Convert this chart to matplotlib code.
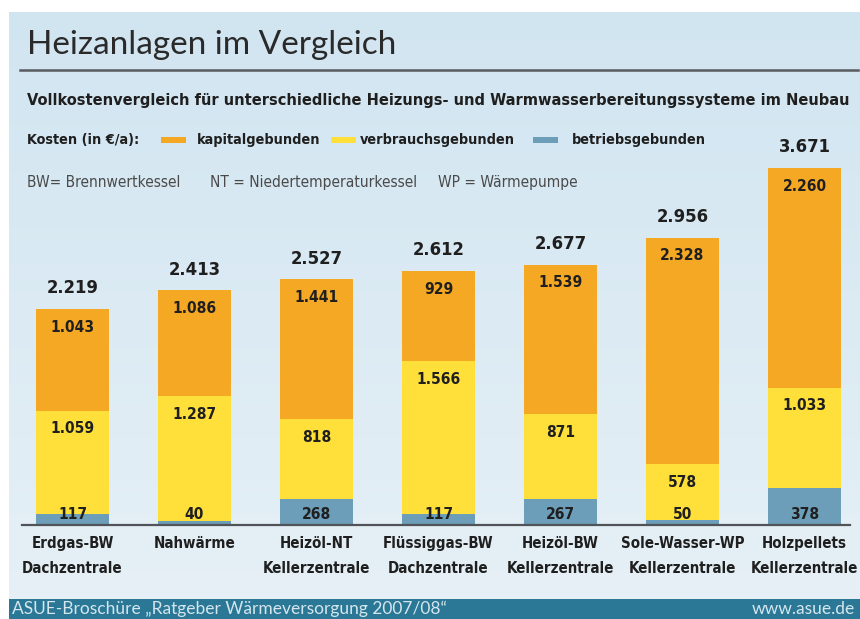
import os
import numpy as np
import matplotlib
matplotlib.use('Agg')
import matplotlib.pyplot as plt
from matplotlib import font_manager as fm
from matplotlib.patches import Rectangle
from matplotlib.lines import Line2D
from matplotlib.colors import LinearSegmentedColormap

# Data
systems = ['Erdgas-BW\nDachzentrale', 'Nahwärme', 'Heizöl-NT\nKellerzentrale',
           'Flüssiggas-BW\nDachzentrale', 'Heizöl-BW\nKellerzentrale',
           'Sole-Wasser-WP\nKellerzentrale', 'Holzpellets\nKellerzentrale']
betrieb = [117, 40, 268, 117, 267, 50, 378]
verbrauch = [1059, 1287, 818, 1566, 871, 578, 1033]
kapital = [1043, 1086, 1441, 929, 1539, 2328, 2260]
totals = [2219, 2413, 2527, 2612, 2677, 2956, 3671]

C_KAP = '#F5A823'
C_VER = '#FFE03A'
C_BET = '#6C9DB9'
TXT = '#1f1f1f'


def pick(files, fallback):
    paths = {os.path.basename(f.fname): f.fname for f in fm.fontManager.ttflist}
    for fn in files:
        if fn in paths:
            return fm.FontProperties(fname=paths[fn]), fn
    return fallback, 'fallback'


BOLD, bold_name = pick(['LiberationSansNarrow-Bold.ttf', 'DejaVuSansCondensed-Bold.ttf'],
                       fm.FontProperties(family='DejaVu Sans', weight='bold'))
REG, reg_name = pick(['LiberationSansNarrow-Regular.ttf', 'DejaVuSansCondensed.ttf'],
                     fm.FontProperties(family='DejaVu Sans'))
if 'Narrow' in bold_name:
    k = 1.0
elif 'Condensed' in bold_name:
    k = 0.8
else:
    k = 0.72


def fmt(v):
    return f'{v:,}'.replace(',', '.')


W, H = 860, 619
fig = plt.figure(figsize=(W / 100, H / 100), dpi=100)
fig.patch.set_facecolor('white')

# light blue panel with soft gradient
bg = fig.add_axes([9 / W, 20 / H, (W - 9) / W, (H - 12 - 20) / H], zorder=0)
grad = np.linspace(0, 1, 256)[:, None] * np.ones((1, 16))
cmap = LinearSegmentedColormap.from_list('bgc', ['#D1E5F1', '#E6F0F6'])
bg.imshow(grad, aspect='auto', cmap=cmap, extent=[0, 1, 0, 1], origin='upper')
bg.set_axis_off()

# footer band
fig.patches.append(Rectangle((9 / W, 0), 1, 20 / H, transform=fig.transFigure,
                             facecolor='#2B7896', edgecolor='none', zorder=1))


def px(x, y):
    return x / W, 1 - y / H


renderer = fig.canvas.get_renderer()


def fit(t, width):
    w = t.get_window_extent(renderer=renderer).width
    t.set_fontsize(t.get_fontsize() * width / w)
    return t.get_fontsize()


# title block
t = fig.text(*px(27, 45), 'Heizanlagen im Vergleich', fontsize=22, family='Lato',
             color='#2a2a2a', va='center', ha='left')
fit(t, 370)
fig.add_artist(Line2D([20 / W, 858 / W], [1 - 70 / H] * 2, transform=fig.transFigure,
                      color='#585c60', lw=1.8))
t = fig.text(*px(27, 100), 'Vollkostenvergleich für unterschiedliche Heizungs- und '
             'Warmwasserbereitungssysteme im Neubau', fontproperties=BOLD, fontsize=15,
             color=TXT, va='center', ha='left')
fit(t, 821)

# legend row
leg_y = 140
kosten = fig.text(*px(27, leg_y), 'Kosten (in €/a):', fontproperties=BOLD, fontsize=14,
                  color=TXT, va='center', ha='left')
leg = [(161, C_KAP, 197, 'kapitalgebunden', 131),
       (331, C_VER, 360, 'verbrauchsgebunden', 168),
       (533, C_BET, 572, 'betriebsgebunden', 134)]
labels = []
for x0, c, xt, lab, wd in leg:
    fig.patches.append(Rectangle((x0 / W, 1 - (leg_y + 3) / H), 25 / W, 6 / H,
                                 transform=fig.transFigure, facecolor=c,
                                 edgecolor='none', zorder=3))
    labels.append((fig.text(*px(xt, leg_y), lab, fontproperties=BOLD, fontsize=14,
                            color=TXT, va='center', ha='left'), wd))
leg_size = min(fit(t, wd) for t, wd in labels)
for t, _ in labels:
    t.set_fontsize(leg_size)
kosten.set_fontsize(min(leg_size, fit(kosten, 128)))

# abbreviations
abbr = []
for x0, lab, wd in [(27, 'BW= Brennwertkessel', 160),
                    (210, 'NT = Niedertemperaturkessel', 206),
                    (438, 'WP = Wärmepumpe', 150)]:
    t = fig.text(*px(x0, 182), lab, fontproperties=REG, fontsize=13,
                 color='#4a4a4a', va='center', ha='left')
    abbr.append((t, wd))
ab_size = min(fit(t, wd) for t, wd in abbr)
for t, _ in abbr:
    t.set_fontsize(ab_size)

# chart
ax = fig.add_axes([22 / W, (H - 525) / H, (850 - 22) / W, 3800 * 0.0972 / H], zorder=2)
ax.patch.set_alpha(0)
x = np.arange(len(systems))
b1 = np.array(betrieb)
b2 = b1 + np.array(verbrauch)
ax.bar(x, betrieb, width=0.6, color=C_BET)
ax.bar(x, verbrauch, width=0.6, bottom=b1, color=C_VER)
ax.bar(x, kapital, width=0.6, bottom=b2, color=C_KAP)
ax.set_xlim(-0.414, 6.373)
ax.set_ylim(0, 3800)
for s in ['top', 'right', 'left']:
    ax.spines[s].set_visible(False)
ax.spines['bottom'].set_color('#505458')
ax.spines['bottom'].set_linewidth(1.6)
ax.set_yticks([])
ax.set_xticks(x)
ax.set_xticklabels(systems, fontproperties=BOLD, fontsize=13.5 * k, color=TXT,
                   linespacing=1.8)
ax.tick_params(axis='x', length=0, pad=8)

for i in range(len(systems)):
    ax.annotate(fmt(betrieb[i]), (x[i], 0), xytext=(0, 7.5), textcoords='offset points',
                ha='center', va='center', fontproperties=BOLD, fontsize=14 * k, color=TXT)
    ax.annotate(fmt(verbrauch[i]), (x[i], b2[i]), xytext=(0, -13),
                textcoords='offset points', ha='center', va='center',
                fontproperties=BOLD, fontsize=14 * k, color=TXT)
    ax.annotate(fmt(kapital[i]), (x[i], totals[i]), xytext=(0, -13),
                textcoords='offset points', ha='center', va='center',
                fontproperties=BOLD, fontsize=14 * k, color=TXT)
    ax.annotate(fmt(totals[i]), (x[i], totals[i]), xytext=(0, 15),
                textcoords='offset points', ha='center', va='center',
                fontproperties=BOLD, fontsize=16.5 * k, color=TXT)

# footer texts
t = fig.text(*px(12, 614), 'ASUE-Broschüre „Ratgeber Wärmeversorgung 2007/08“',
             family='Lato', fontsize=13, color='#D5E6EE', va='baseline', ha='left',
             zorder=4)
fit(t, 466)
t.set_fontsize(min(t.get_fontsize(), 12.5))
fig.text(*px(855, 614), 'www.asue.de', family='Lato', fontsize=t.get_fontsize(),
         color='#D5E6EE', va='baseline', ha='right', zorder=4)

fig.savefig('out.png', dpi=100, facecolor=fig.get_facecolor())
